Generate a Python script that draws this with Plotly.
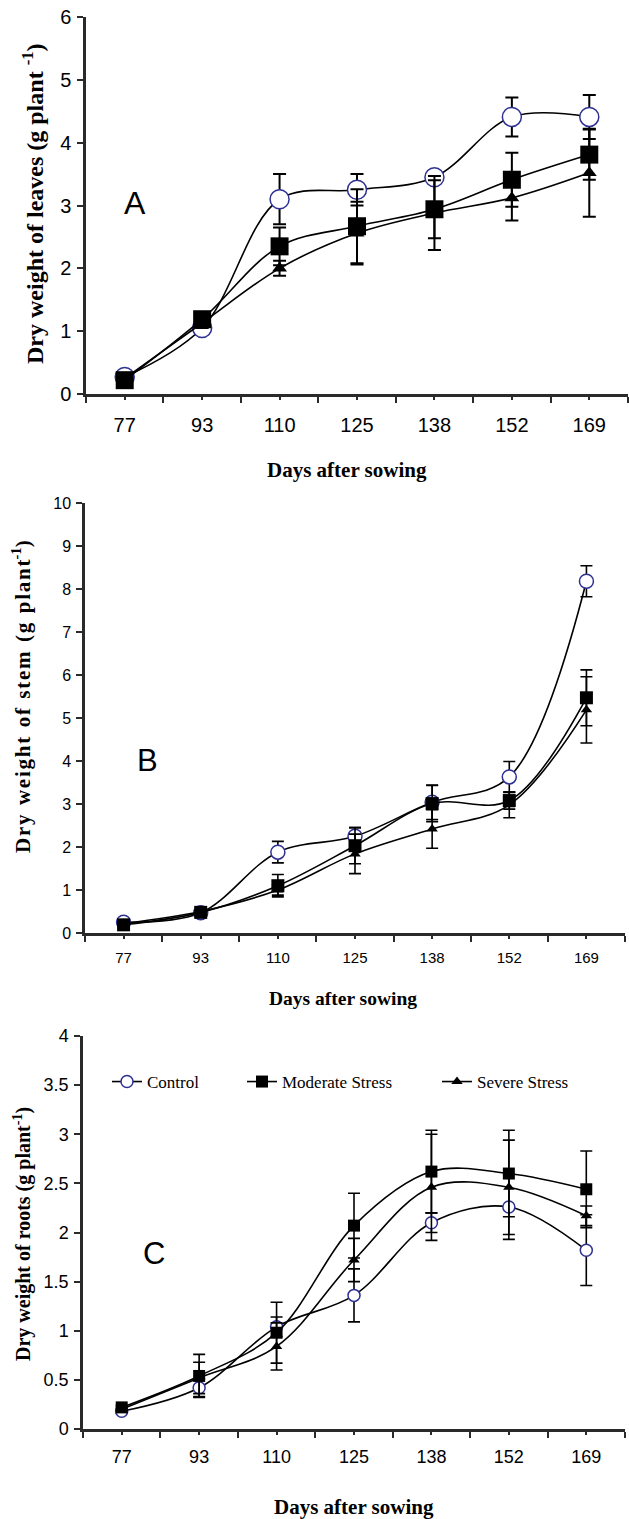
import plotly.graph_objects as go

W, H = 629, 1519

days = ["77", "93", "110", "125", "138", "152", "169"]
xi = list(range(len(days)))

# Panel A: leaves
leaf_control = [0.27, 1.05, 3.10, 3.25, 3.45, 4.41, 4.41]
leaf_control_err = [0.03, 0.10, 0.40, 0.25, 0.04, 0.31, 0.35]
leaf_moderate = [0.22, 1.19, 2.35, 2.67, 2.94, 3.41, 3.81]
leaf_moderate_err = [0.03, 0.08, 0.30, 0.59, 0.46, 0.43, 0.40]
leaf_severe = [0.25, 1.13, 2.00, 2.56, 2.88, 3.12, 3.52]
leaf_severe_err = [0.03, 0.08, 0.12, 0.50, 0.59, 0.36, 0.70]

# Panel B: stem
stem_control = [0.25, 0.47, 1.88, 2.25, 3.04, 3.63, 8.18]
stem_control_err = [0.03, 0.04, 0.25, 0.20, 0.40, 0.36, 0.36]
stem_moderate = [0.19, 0.48, 1.10, 2.03, 3.01, 3.08, 5.47]
stem_moderate_err = [0.03, 0.04, 0.26, 0.42, 0.42, 0.20, 0.65]
stem_severe = [0.22, 0.50, 1.00, 1.84, 2.42, 2.98, 5.19]
stem_severe_err = [0.03, 0.04, 0.12, 0.46, 0.45, 0.30, 0.77]

# Panel C: roots
root_control = [0.18, 0.42, 1.04, 1.36, 2.10, 2.26, 1.82]
root_control_err = [0.02, 0.09, 0.10, 0.27, 0.10, 0.33, 0.36]
root_moderate = [0.22, 0.54, 0.98, 2.07, 2.62, 2.60, 2.44]
root_moderate_err = [0.02, 0.22, 0.31, 0.33, 0.42, 0.44, 0.39]
root_severe = [0.20, 0.52, 0.84, 1.72, 2.46, 2.46, 2.17]
root_severe_err = [0.02, 0.16, 0.24, 0.22, 0.54, 0.48, 0.10]

series_names = ["Control", "Moderate Stress", "Severe Stress"]

NAVY = "#2E3192"
AXC = "#2a2a2a"
SANS = "Liberation Sans, Arial, sans-serif"
SERIF = "Liberation Serif, Times New Roman, serif"


def px(x):
    return x / W


def py(y):
    return 1 - y / H


fig = go.Figure()

panels = [
    ("", [(leaf_control, leaf_control_err), (leaf_moderate, leaf_moderate_err), (leaf_severe, leaf_severe_err)],
     (19, 18, 13), 6.5, 2.0),
    ("2", [(stem_control, stem_control_err), (stem_moderate, stem_moderate_err), (stem_severe, stem_severe_err)],
     (14, 13, 10), 6, 1.6),
    ("3", [(root_control, root_control_err), (root_moderate, root_moderate_err), (root_severe, root_severe_err)],
     (12, 12, 10), 6, 1.6),
]

symbols = ["circle", "square", "triangle-up"]
for pi, (suf, data, sizes, ew, et) in enumerate(panels):
    for si, (vals, errs) in enumerate(data):
        is_ctrl = si == 0
        legend_name = "legend"
        if pi == 2:
            legend_name = ["legend", "legend2", "legend3"][si]
        fig.add_trace(go.Scatter(
            x=xi, y=vals,
            name=series_names[si],
            mode="lines+markers",
            line=dict(color="black", width=1.6, shape="spline", smoothing=1.0),
            marker=dict(
                symbol=symbols[si],
                size=sizes[si],
                color="white" if is_ctrl else "black",
                line=dict(color=NAVY if is_ctrl else "black", width=1.5 if is_ctrl else 0),
            ),
            error_y=dict(type="data", array=errs, visible=True, color="black",
                         thickness=et, width=ew),
            xaxis="x" + suf, yaxis="y" + suf,
            showlegend=(pi == 2),
            legend=legend_name,
        ))

doms = {
    "": dict(x=(86, 628), y=(394, 17), rng=(0, 6), dt=1, tfs=20, xfs=20, xstand=8),
    "2": dict(x=(85, 625), y=(933, 503), rng=(0, 10), dt=1, tfs=16, xfs=15, xstand=6),
    "3": dict(x=(83, 625), y=(1429, 1036), rng=(0, 4), dt=0.5, tfs=18, xfs=18, xstand=7),
}

for suf, d in doms.items():
    xa = dict(
        domain=[px(d["x"][0]), px(d["x"][1])],
        range=[-0.5, 6.5],
        anchor="y" + suf,
        tickmode="array", tickvals=xi, ticktext=days,
        ticks="outside", ticklen=3, tickwidth=2, tickcolor=AXC,
        showline=True, linecolor=AXC, linewidth=2.5,
        showgrid=False, zeroline=False, automargin=False,
        tickfont=dict(family=SANS, size=d["xfs"], color="black"),
        ticklabelstandoff=d["xstand"],
        minor=dict(tickvals=[i - 0.5 for i in range(len(days) + 1)], ticks="outside",
                   ticklen=6, tickwidth=2, tickcolor=AXC, showgrid=False),
        fixedrange=True,
    )
    ya = dict(
        domain=[py(d["y"][0]), py(d["y"][1])],
        range=list(d["rng"]),
        anchor="x" + suf,
        dtick=d["dt"], tick0=0,
        ticks="outside", ticklen=6, tickwidth=2, tickcolor=AXC,
        showline=True, linecolor=AXC, linewidth=2.5,
        showgrid=False, zeroline=False, automargin=False,
        tickfont=dict(family=SANS, size=d["tfs"], color="black"),
        ticklabelstandoff=2,
        fixedrange=True,
    )
    fig.layout["xaxis" + suf] = xa
    fig.layout["yaxis" + suf] = ya

annotations = [
    dict(text="A", x=px(135), y=py(203), font=dict(family=SANS, size=32, color="black")),
    dict(text="B", x=px(147), y=py(760), font=dict(family=SANS, size=31, color="black")),
    dict(text="C", x=px(154), y=py(1253), font=dict(family=SANS, size=31, color="black")),
    dict(text="<b>Days after sowing</b>", x=px(347), y=py(470), font=dict(family=SERIF, size=21, color="black")),
    dict(text="<b>Days after sowing</b>", x=px(343), y=py(998), font=dict(family=SERIF, size=19.5, color="black")),
    dict(text="<b>Days after sowing</b>", x=px(354), y=py(1507), font=dict(family=SERIF, size=21, color="black")),
    dict(text="<b>Dry weight of leaves (g plant <sup>-1</sup>)</b>", x=px(33), y=py(204), textangle=-90,
         font=dict(family=SERIF, size=24, color="black")),
    dict(text="<b>D\u200ar\u200ay\u2009 w\u200ae\u200ai\u200ag\u200ah\u200at\u2009 o\u200af\u2009 s\u200at\u200ae\u200am\u2009 (\u200ag\u2009 p\u200al\u200aa\u200an\u200at<sup>-1</sup>)</b>",
         x=px(21), y=py(697), textangle=-90, font=dict(family=SERIF, size=21, color="black")),
    dict(text="<b>Dry weight of roots (g plant<sup>-1</sup>)</b>", x=px(22), y=py(1234), textangle=-90,
         font=dict(family=SERIF, size=20, color="black")),
]
for a in annotations:
    a.update(xref="paper", yref="paper", showarrow=False, xanchor="center", yanchor="middle")

legend_common = dict(orientation="h", yanchor="middle", xanchor="left",
                     bgcolor="rgba(0,0,0,0)", borderwidth=0,
                     font=dict(family=SERIF, size=17, color="black"))
fig.update_layout(
    width=W, height=H,
    margin=dict(l=0, r=0, t=0, b=0, autoexpand=False),
    paper_bgcolor="white", plot_bgcolor="white",
    annotations=annotations,
    legend=dict(x=px(107), y=py(1082), **legend_common),
    legend2=dict(x=px(242), y=py(1082), **legend_common),
    legend3=dict(x=px(437), y=py(1082), **legend_common),
)

fig.write_html("out.html")
